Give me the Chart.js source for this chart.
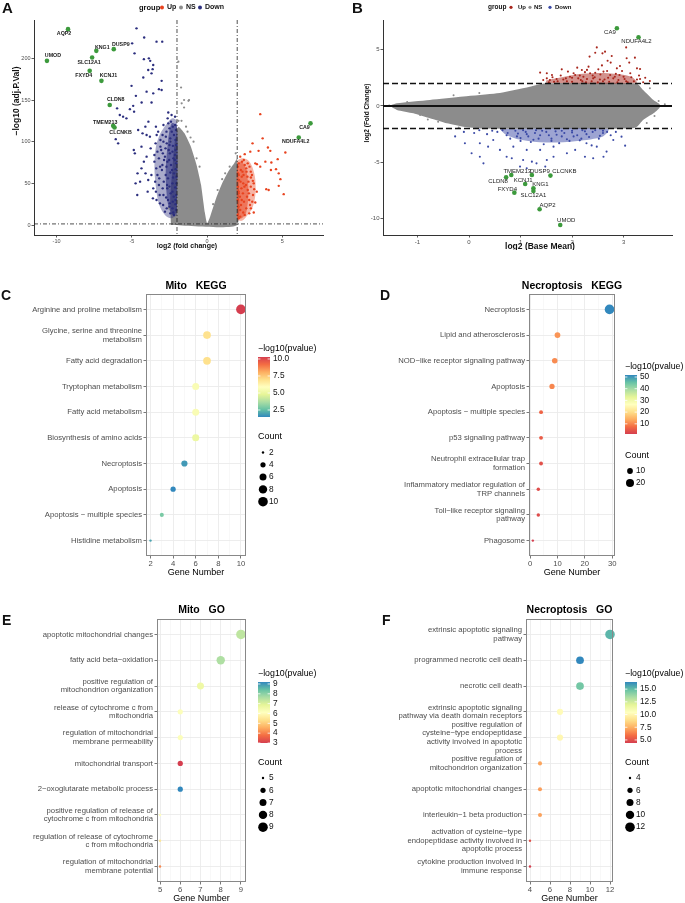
<!DOCTYPE html>
<html lang="en">
<head>
<meta charset="UTF-8">
<title>DEG volcano, MA plot and enrichment dot plots</title>
<script src="https://cdn.jsdelivr.net/npm/chart.js"></script>
<style>
  html, body { margin: 0; padding: 0; background: #fff; }
  body { position: relative; width: 685px; height: 903px; overflow: hidden; }
  canvas { position: absolute; }
</style>
</head>
<body>
<canvas id="cA" width="340" height="250" style="left:0px;top:0px"></canvas>
<canvas id="cB" width="345" height="250" style="left:340px;top:0px"></canvas>
<canvas id="cC" width="340" height="300" style="left:0px;top:280px"></canvas>
<canvas id="cD" width="345" height="300" style="left:340px;top:280px"></canvas>
<canvas id="cE" width="340" height="323" style="left:0px;top:580px"></canvas>
<canvas id="cF" width="345" height="323" style="left:340px;top:580px"></canvas>

<script>
// ---------------- A : volcano ----------------
const groupNames = ['Up', 'NS', 'Down'];

const volcGenes = ['AQP2', 'UMOD', 'KNG1', 'DUSP9', 'SLC12A1', 'FXYD4', 'KCNJ1', 'CLDN8', 'TMEM213', 'CLCNKB', 'CA9', 'NDUFA4L2'];
const volcGeneFC = [-9.24, -10.64, -7.36, -6.2, -7.64, -7.8, -7.02, -6.47, -6.24, -6.15, 6.87, 6.09];
const volcGeneP = [235, 197, 209, 211, 201, 185, 173, 144, 119, 117, 122, 105];
const volcCutFC = [-2, 2];
const volcCutP = 1.3;

// dense cores of each group (outline)
const volcNsCloud = [[-2.4, 0], [-2.45, 30], [-2.3, 70], [-2.15, 100], [-1.9, 118], [-1.5, 110], [-1.1, 95],
  [-0.7, 72], [-0.4, 48], [-0.15, 15], [0, 2], [0.2, 10], [0.6, 32], [1.0, 50], [1.4, 64], [1.8, 74], [2.0, 80], [2.0, 0]];
const volcDownCore = [[-2.0, 12], [-2.0, 124], [-2.3, 128], [-2.7, 121], [-3.1, 110], [-3.4, 94], [-3.5, 70],
  [-3.4, 45], [-3.2, 25], [-2.8, 12], [-2.4, 8]];
const volcDownInner = [[-2.0, 15], [-2.0, 118], [-2.35, 122], [-2.6, 100], [-2.75, 60], [-2.6, 25], [-2.3, 12]];
const volcUpCore = [[2.0, 6], [2.0, 76], [2.3, 80], [2.7, 78], [3.0, 70], [3.2, 55], [3.2, 35], [3.0, 20], [2.6, 10], [2.3, 5]];
const volcUpInner = [[2.0, 8], [2.0, 72], [2.3, 76], [2.6, 66], [2.75, 40], [2.6, 15], [2.3, 8]];

const volcNs = [[-1.91, 196], [-1.73, 165], [-1.53, 150], [-1.2, 150], [-1.69, 146], [-1.24, 149], [-1.53, 141],
  [-1.9, 125], [-1.4, 118], [-0.9, 100], [-0.5, 70], [-2.4, 100], [0.4, 25], [1.0, 55], [1.5, 70], [1.9, 86], [-2.5, 45],
  [-1.1, 105], [-0.7, 80], [0.7, 42], [1.2, 62], [-2.55, 20], [-1.7, 125], [-1.3, 112]];
const volcDown = [[-4.69, 236], [-4.18, 225], [-3.36, 220], [-2.98, 220], [-4.98, 218], [-4.82, 206], [-4.2, 199],
  [-3.87, 200], [-3.78, 197], [-3.58, 192], [-3.91, 186], [-3.62, 187], [-3.69, 182], [-4.24, 177], [-3.02, 173],
  [-5.02, 167], [-3.2, 163], [-3.02, 162], [-4.02, 160], [-3.58, 158], [-4.73, 155], [-3.69, 147], [-4.35, 147],
  [-4.91, 143], [-5.13, 139], [-4.85, 136], [-5.8, 132], [-5.58, 130], [-5.36, 128], [-5.98, 140], [-2.58, 135],
  [-2.36, 132], [-2.13, 130], [-4.58, 114], [-4.29, 110], [-4.02, 108], [-5.91, 98], [-6.07, 103], [-4.87, 90],
  [-4.8, 86], [-4.75, 50], [-4.64, 36], [-4.62, 62], [-4.36, 68], [-4.02, 82], [-4.09, 62], [-4.36, 94], [-3.8, 106],
  [-3.91, 54], [-3.58, 44], [-3.36, 30], [-3.13, 26], [-2.9, 120], [-2.7, 112], [-3.1, 102], [-2.5, 96], [-3.3, 88],
  [-2.8, 82], [-3.5, 76], [-2.4, 72], [-3.0, 66], [-3.7, 60], [-2.6, 56], [-3.2, 48], [-2.3, 40], [-2.9, 36],
  [-3.6, 32], [-2.5, 22], [-2.8, 16], [-2.2, 12], [-3.4, 118], [-3.9, 124], [-2.2, 108], [-2.4, 124], [-2.1, 90],
  [-2.2, 62], [-2.1, 30], [-2.65, 44], [-3.3, 60], [-2.45, 104], [-4.1, 118], [-3.75, 92], [-4.2, 76], [-3.95, 40],
  [-4.45, 52], [-2.05, 50], [-2.15, 78], [-2.3, 20], [-2.6, 30], [-3.05, 90],
  [-2.05, 18], [-2.1, 25], [-2.05, 36], [-2.12, 45], [-2.04, 58], [-2.1, 67], [-2.06, 74], [-2.14, 84], [-2.05, 96],
  [-2.1, 102], [-2.07, 114], [-2.12, 120], [-2.25, 15], [-2.28, 28], [-2.22, 34], [-2.3, 50], [-2.26, 57],
  [-2.33, 66], [-2.24, 80], [-2.3, 88], [-2.27, 95], [-2.35, 112], [-2.28, 118], [-2.45, 14], [-2.48, 26],
  [-2.42, 38], [-2.5, 46], [-2.44, 63], [-2.52, 78], [-2.47, 86], [-2.55, 90], [-2.43, 100], [-2.5, 116],
  [-2.58, 122], [-2.68, 20], [-2.72, 33], [-2.66, 48], [-2.75, 60], [-2.7, 70], [-2.64, 76], [-2.76, 92],
  [-2.68, 98], [-2.74, 106], [-2.62, 128], [-2.92, 24], [-2.95, 44], [-2.88, 52], [-2.97, 72], [-2.86, 78],
  [-2.94, 86], [-2.9, 100], [-2.96, 108], [-3.15, 36], [-3.18, 56], [-3.12, 70], [-3.2, 80], [-3.1, 94],
  [-3.25, 112], [-3.4, 40], [-3.45, 52], [-3.38, 68], [-3.5, 84], [-3.42, 98], [-3.35, 108]];
const volcUp = [[3.53, 133], [3.02, 98], [3.69, 104], [4.04, 93], [4.2, 89], [3.42, 89], [2.87, 88], [5.2, 87],
  [4.69, 79], [3.87, 76], [4.27, 75], [3.2, 74], [3.31, 73], [3.53, 70], [4.24, 66], [4.58, 67], [4.76, 62],
  [4.87, 55], [2.91, 57], [3.04, 53], [4.76, 47], [3.93, 43], [4.09, 42], [3.13, 43], [5.09, 37], [3.2, 27],
  [2.91, 20], [2.5, 85], [2.2, 82], [2.6, 68], [2.1, 60], [2.9, 64], [2.4, 50], [2.1, 40], [2.7, 42], [2.3, 30],
  [2.8, 30], [2.2, 18], [2.5, 12], [2.1, 8], [3.3, 40], [3.1, 15], [2.05, 70], [2.35, 64], [2.75, 52],
  [2.03, 12], [2.08, 22], [2.04, 30], [2.1, 38], [2.05, 46], [2.12, 54], [2.06, 62], [2.1, 74], [2.2, 10],
  [2.25, 24], [2.18, 34], [2.28, 44], [2.22, 52], [2.3, 58], [2.24, 66], [2.32, 76], [2.4, 15], [2.45, 28],
  [2.38, 38], [2.48, 46], [2.42, 60], [2.5, 72], [2.44, 78], [2.6, 20], [2.65, 34], [2.58, 48], [2.68, 58],
  [2.62, 64], [2.7, 74], [2.8, 14], [2.85, 24], [2.78, 38], [2.9, 46], [2.82, 70], [3.0, 28], [3.05, 36],
  [2.98, 60], [3.1, 50]];

// ---------------- B : MA plot ----------------
const maGenes = ['CA9', 'NDUFA4L2', 'TMEM213', 'DUSP9', 'CLCNKB', 'CLDN8', 'KCNJ1', 'KNG1', 'SLC12A1', 'FXYD4', 'AQP2', 'UMOD'];
const maGeneMean = [2.87, 3.29, 0.82, 1.22, 1.58, 0.72, 1.09, 1.25, 1.25, 0.88, 1.37, 1.77];
const maGeneFC = [6.9, 6.1, -6.12, -6.12, -6.18, -6.33, -6.92, -7.3, -7.55, -7.69, -9.17, -10.56];
const maCutFC = [-2, 2];

const maNsCloud = [[-1.5, 0.1], [-1.4, 0.24], [-0.76, 0.53], [-0.11, 0.83], [0.54, 1.12], [1.18, 1.71], [1.45, 2.0],
  [3.25, 2.0], [3.38, 1.42], [3.58, 0.53], [3.7, 0.15], [3.7, -0.15], [3.58, -0.65], [3.38, -1.24], [3.26, -1.84],
  [3.15, -2.0], [0.25, -2.0], [-0.11, -1.84], [-0.43, -1.54], [-0.76, -1.09], [-1.08, -0.65], [-1.4, -0.35], [-1.5, -0.1]];
const maUpCore = [[1.5, 2.05], [3.25, 2.05], [3.15, 2.6], [2.7, 2.9], [2.2, 2.85], [1.8, 2.55], [1.5, 2.25]];
const maDownCore = [[0.6, -2.05], [2.7, -2.05], [2.6, -2.7], [2.1, -3.1], [1.5, -3.25], [1.0, -3.0], [0.7, -2.5]];

const maNs = [[3.68, 0.44], [3.51, 1.57], [3.37, 1.12], [3.8, 0.15], [-0.95, -0.8], [-0.6, -1.39], [-1.55, 0.05],
  [3.45, -1.5], [3.6, -0.9], [-1.2, 0.35], [3.3, 1.7], [-0.3, 0.95], [0.2, 1.15], [-0.8, -1.2], [-0.2, -1.9]];
const maUp = [[2.48, 5.2], [2.59, 4.67], [2.64, 4.82], [3.05, 5.2], [2.77, 4.44], [2.34, 4.38], [2.45, 4.73],
  [2.69, 4.02], [2.75, 3.85], [3.06, 4.23], [3.11, 3.85], [2.87, 3.34], [2.93, 3.55], [2.32, 3.49], [2.19, 3.19],
  [3.26, 3.34], [2.51, 3.25], [2.61, 3.05], [1.8, 3.25], [2.03, 2.9], [1.96, 2.6], [1.51, 2.9], [1.61, 2.75],
  [3.13, 2.9], [3.0, 2.6], [2.74, 2.75], [2.83, 2.6], [1.7, 2.4], [1.83, 2.35], [2.12, 2.45], [2.29, 2.4],
  [2.41, 2.45], [2.54, 2.35], [1.44, 2.3], [1.57, 2.3], [3.26, 2.35], [3.32, 2.4], [2.25, 3.0], [2.29, 3.2],
  [3.22, 4.29], [3.32, 3.28], [3.51, 2.22], [1.38, 2.96], [1.51, 2.45], [1.9, 2.2], [2.0, 2.5], [2.2, 2.2],
  [2.4, 2.7], [2.6, 2.2], [2.7, 2.5], [2.9, 2.3], [3.05, 2.2], [1.65, 2.15], [2.15, 2.7], [2.45, 2.95], [2.85, 2.85],
  [1.55, 2.1], [1.62, 2.55], [1.72, 2.2], [1.78, 2.7], [1.88, 2.45], [1.92, 3.05], [2.0, 2.15], [2.06, 2.75],
  [2.1, 3.4], [2.17, 2.3], [2.22, 2.6], [2.27, 2.1], [2.35, 2.9], [2.38, 2.2], [2.44, 2.55], [2.5, 2.1],
  [2.55, 2.8], [2.58, 3.6], [2.63, 2.35], [2.68, 3.1], [2.72, 2.15], [2.8, 2.45], [2.88, 2.1], [2.92, 2.75],
  [2.97, 3.1], [3.02, 2.4], [3.08, 2.1], [3.15, 2.55], [3.2, 2.2], [3.3, 2.7], [3.38, 2.1], [3.42, 2.5]];
const maDown = [[-0.27, -2.7], [-0.08, -3.31], [0.05, -4.2], [0.21, -4.5], [0.28, -5.09], [0.37, -3.61],
  [0.47, -3.02], [0.6, -3.9], [0.73, -4.5], [0.83, -4.64], [0.99, -5.38], [1.12, -5.53], [1.31, -5.09],
  [1.48, -5.38], [1.64, -4.5], [1.9, -4.2], [2.06, -3.9], [2.25, -4.5], [2.41, -4.64], [2.61, -4.5], [2.67, -4.05],
  [3.03, -3.52], [2.8, -3.02], [2.96, -2.72], [2.48, -3.61], [2.28, -3.31], [1.64, -3.61], [1.38, -3.9],
  [1.12, -3.9], [0.86, -3.61], [0.21, -3.31], [0.73, -2.6], [0.93, -2.7], [1.12, -2.5], [1.38, -2.6], [1.7, -2.55],
  [2.03, -2.7], [2.28, -2.5], [2.54, -2.65], [1.05, -4.79], [1.22, -4.94], [1.51, -4.79], [0.9, -2.2], [1.1, -2.3],
  [1.3, -2.15], [1.5, -2.3], [1.8, -2.2], [2.0, -2.35], [2.2, -2.15], [2.4, -2.3], [2.6, -2.2], [1.0, -3.1],
  [1.25, -3.0], [1.6, -3.1], [1.9, -2.95], [2.15, -3.05], [0.55, -2.3], [0.35, -2.5], [0.1, -2.4],
  [0.65, -2.15], [0.75, -2.4], [0.8, -2.9], [0.95, -2.45], [1.0, -2.85], [1.05, -2.15], [1.15, -2.7], [1.2, -3.2],
  [1.28, -2.4], [1.35, -2.9], [1.42, -2.2], [1.45, -3.4], [1.55, -2.6], [1.6, -2.9], [1.68, -2.25], [1.75, -3.3],
  [1.8, -2.7], [1.85, -2.4], [1.95, -3.1], [2.0, -2.2], [2.1, -2.6], [2.18, -2.9], [2.25, -2.25], [2.33, -2.75],
  [2.38, -3.5], [2.45, -2.15], [2.52, -2.9], [2.6, -2.4], [2.68, -2.3], [2.75, -2.6], [2.85, -2.3], [0.45, -2.2],
  [0.2, -2.15], [-0.1, -2.3]];

// ---------------- C : Mito KEGG ----------------
const mitoKeggTerms = ['Arginine and proline metabolism', ['Glycine, serine and threonine', 'metabolism'],
  'Fatty acid degradation', 'Tryptophan metabolism', 'Fatty acid metabolism', 'Biosynthesis of amino acids',
  'Necroptosis', 'Apoptosis', 'Apoptosis − multiple species', 'Histidine metabolism'];
const mitoKeggCount = [10, 7, 7, 6, 6, 6, 5, 4, 3, 2];
const mitoKeggLogP = [10.29, 6.9, 6.95, 5.6, 5.6, 5.1, 1.8, 1.47, 2.9, 2.0];
const mitoKeggBar = ['10.0', '7.5', '5.0', '2.5'];
const mitoKeggSizes = [2, 4, 6, 8, 10];

// ---------------- D : Necroptosis KEGG ----------------
const necroKeggTerms = ['Necroptosis', 'Lipid and atherosclerosis', 'NOD−like receptor signaling pathway',
  'Apoptosis', 'Apoptosis − multiple species', 'p53 signaling pathway', ['Neutrophil extracellular trap', 'formation'],
  ['Inflammatory mediator regulation of', 'TRP channels'], ['Toll−like receptor signaling', 'pathway'], 'Phagosome'];
const necroKeggCount = [29, 10, 9, 8, 4, 4, 4, 3, 3, 1];
const necroKeggLogP = [51.7, 11.5, 10.5, 10.0, 6.3, 5.3, 3.8, 3.3, 3.2, 1.3];
const necroKeggBar = ['50', '40', '30', '20', '10'];
const necroKeggSizes = [10, 20];

// ---------------- E : Mito GO ----------------
const mitoGoTerms = ['apoptotic mitochondrial changes', 'fatty acid beta−oxidation',
  ['positive regulation of', 'mitochondrion organization'], ['release of cytochrome c from', 'mitochondria'],
  ['regulation of mitochondrial', 'membrane permeability'], 'mitochondrial transport', '2−oxoglutarate metabolic process',
  ['positive regulation of release of', 'cytochrome c from mitochondria'], ['regulation of release of cytochrome', 'c from mitochondria'],
  ['regulation of mitochondrial', 'membrane potential']];
const mitoGoCount = [9, 8, 7, 6, 6, 6, 6, 5, 5, 5];
const mitoGoLogP = [7.4, 7.6, 6.6, 6.2, 6.2, 3.0, 9.2, 6.1, 5.5, 4.1];
const mitoGoBar = ['9', '8', '7', '6', '5', '4', '3'];
const mitoGoSizes = [5, 6, 7, 8, 9];

// ---------------- F : Necroptosis GO ----------------
const necroGoTerms = [['extrinsic apoptotic signaling', 'pathway'], 'programmed necrotic cell death', 'necrotic cell death',
  ['extrinsic apoptotic signaling', 'pathway via death domain receptors'],
  ['positive regulation of', 'cysteine−type endopeptidase', 'activity involved in apoptotic', 'process'],
  ['positive regulation of', 'mitochondrion organization'], 'apoptotic mitochondrial changes', 'interleukin−1 beta production',
  ['activation of cysteine−type', 'endopeptidase activity involved in', 'apoptotic process'],
  ['cytokine production involved in', 'immune response']];
const necroGoCount = [12, 9, 9, 7, 7, 5, 5, 5, 4, 4];
const necroGoLogP = [15.2, 16.4, 14.6, 10.2, 10.0, 7.2, 7.0, 7.1, 5.0, 4.4];
const necroGoBar = ['15.0', '12.5', '10.0', '7.5', '5.0'];
const necroGoSizes = [4, 6, 8, 10, 12];

// ------------------------------------------------
const FONT = '"Liberation Sans", Arial, Helvetica, sans-serif';
Chart.defaults.font.family = FONT;

const SPECTRAL = ['#3288BD', '#66C2A5', '#ABDDA4', '#E6F598', '#FFFFBF', '#FEE08B', '#FDAE61', '#F46D43', '#D53E4F'];
const R_MIN = 1.2, R_MAX = 4.8;

function hexRgb(h) { return [1, 3, 5].map(i => parseInt(h.substr(i, 2), 16)); }
function spectralAt(t) {
  t = Math.max(0, Math.min(1, t));
  const s = t * (SPECTRAL.length - 1);
  const i = Math.min(Math.floor(s), SPECTRAL.length - 2);
  const f = s - i;
  const a = hexRgb(SPECTRAL[i]), b = hexRgb(SPECTRAL[i + 1]);
  return 'rgb(' + a.map((v, k) => Math.round(v + (b[k] - v) * f)).join(',') + ')';
}

function pts(list) { return list.map(p => ({ x: p[0], y: p[1] })); }
function dotSet(list, color, r, order) {
  return { data: pts(list), pointRadius: r, pointBackgroundColor: color, pointBorderWidth: 0, order: order };
}
function blobSet(list, color, order, tension) {
  return { type: 'line', data: pts(list.concat([list[0]])), pointRadius: 0, borderWidth: 0,
    backgroundColor: color, fill: 'shape', tension: tension || 0, order: order };
}
function zip(a, b) { return a.map((v, i) => [v, b[i]]); }

function classicAxis(min, max, step, fit, isX, size) {
  return {
    type: 'linear', min: min, max: max,
    afterFit: s => { if (isX) s.height = fit; else s.width = fit; },
    ticks: { stepSize: step, includeBounds: false, autoSkip: false, maxRotation: 0, padding: 1,
      color: '#4D4D4D', font: { size: size } },
    grid: { drawOnChartArea: false, tickLength: 2.5, tickColor: '#333', tickWidth: 0.8 },
    border: { display: true, color: '#333', width: 1 }
  };
}

function groupLegend(ctx, x0, y, marks, colors, labelX, fs, r) {
  ctx.textBaseline = 'middle';
  ctx.textAlign = 'left';
  ctx.fillStyle = '#111';
  ctx.font = 'bold ' + (fs + 0.5) + 'px ' + FONT;
  ctx.fillText('group', x0, y);
  ctx.font = 'bold ' + fs + 'px ' + FONT;
  groupNames.forEach((g, i) => {
    ctx.beginPath(); ctx.arc(marks[i], y, r, 0, Math.PI * 2);
    ctx.fillStyle = colors[i]; ctx.fill();
    ctx.fillStyle = '#111'; ctx.fillText(g, labelX[i], y);
  });
}

function rotatedText(ctx, txt, x, y) {
  ctx.save(); ctx.translate(x, y); ctx.rotate(-Math.PI / 2);
  ctx.textAlign = 'center'; ctx.textBaseline = 'middle'; ctx.fillText(txt, 0, 0); ctx.restore();
}

const baseOpts = { responsive: false, animation: false, events: [],
  plugins: { legend: { display: false }, tooltip: { enabled: false } } };

// ---------- A ----------
const upA = '#E8431F', nsA = '#8C8C8C', downA = '#2B2E7E', geneCol = '#3C9A3C';
const volcNudge = [[-4, 4.5], [6, -5], [6, -3.5], [7, -5], [-3, 5], [-6, 5], [7, -5], [6, -5], [-8, -3.5], [6, 5], [-6, 4], [-3, 4.5]];

new Chart(document.getElementById('cA'), {
  type: 'scatter',
  data: { datasets: [
    blobSet(volcNsCloud, nsA, 9, 0.15),
    blobSet(volcDownCore, 'rgba(43,46,126,0.4)', 8, 0.3),
    blobSet(volcDownInner, 'rgba(43,46,126,0.6)', 7, 0.3),
    blobSet(volcUpCore, 'rgba(232,67,31,0.4)', 8, 0.3),
    blobSet(volcUpInner, 'rgba(232,67,31,0.55)', 7, 0.3),
    dotSet(volcNs, nsA, 1.1, 5),
    dotSet(volcDown, downA, 1.2, 4),
    dotSet(volcUp, upA, 1.2, 4),
    dotSet(zip(volcGeneFC, volcGeneP), geneCol, 2.3, 1)
  ] },
  options: Object.assign({}, baseOpts, {
    layout: { padding: { left: 0, right: 17, top: 20, bottom: 0 } },
    scales: { x: classicAxis(-11.5, 7.7, 5, 15, true, 5.5), y: classicAxis(-12, 246, 50, 34, false, 5.5) }
  }),
  plugins: [{
    id: 'volcDecor',
    afterDatasetsDraw(chart) {
      const { ctx, chartArea: a, scales: { x, y } } = chart;
      ctx.save();
      ctx.strokeStyle = '#222'; ctx.lineWidth = 0.8; ctx.setLineDash([4, 2, 1, 2]);
      volcCutFC.forEach(v => {
        const px = x.getPixelForValue(v);
        ctx.beginPath(); ctx.moveTo(px, a.top); ctx.lineTo(px, a.bottom); ctx.stroke();
      });
      const py = y.getPixelForValue(volcCutP);
      ctx.beginPath(); ctx.moveTo(a.left, py); ctx.lineTo(a.right, py); ctx.stroke();
      ctx.setLineDash([]);
      ctx.font = 'bold 5.3px ' + FONT; ctx.fillStyle = '#222';
      ctx.textAlign = 'center'; ctx.textBaseline = 'middle';
      volcGenes.forEach((g, i) => ctx.fillText(g, x.getPixelForValue(volcGeneFC[i]) + volcNudge[i][0],
        y.getPixelForValue(volcGeneP[i]) + volcNudge[i][1]));
      ctx.restore();
    },
    afterDraw(chart) {
      const ctx = chart.ctx;
      ctx.save();
      groupLegend(ctx, 139, 7.5, [162, 181, 200], [upA, nsA, downA], [167, 186, 205], 7, 2);
      ctx.fillStyle = '#111'; ctx.font = 'bold 7px ' + FONT;
      ctx.textAlign = 'center'; ctx.textBaseline = 'middle';
      ctx.fillText('log2 (fold change)', 187, 246.5);
      ctx.font = 'bold 8.5px ' + FONT;
      rotatedText(ctx, '−log10 (adj.P.Val)', 17, 101);
      ctx.font = 'bold 15px ' + FONT; ctx.textAlign = 'left'; ctx.textBaseline = 'alphabetic';
      ctx.fillText('A', 2, 12.5);
      ctx.restore();
    }
  }]
});

// ---------- B ----------
const upB = '#A8261C', nsB = '#8C8C8C', downB = '#3B4AA6';
const maNudge = [[-7, 4], [-2, 4], [6, -3.5], [8, -3.5], [14, -4], [-8, 4.5], [-2, -4], [7, -4], [0, 4], [-7, -3.5], [8, -4], [6, -5]];

new Chart(document.getElementById('cB'), {
  type: 'scatter',
  data: { datasets: [
    blobSet(maNsCloud, nsB, 9, 0.2),
    blobSet(maDownCore, 'rgba(59,74,166,0.5)', 8, 0.3),
    blobSet(maUpCore, 'rgba(168,38,28,0.5)', 8, 0.3),
    dotSet(maNs, nsB, 1, 5),
    dotSet(maDown, downB, 1.05, 4),
    dotSet(maUp, upB, 1.05, 4),
    dotSet(zip(maGeneMean, maGeneFC), geneCol, 2.3, 1)
  ] },
  options: Object.assign({}, baseOpts, {
    layout: { padding: { left: 0, right: 13, top: 20, bottom: 0 } },
    scales: { x: classicAxis(-1.67, 3.94, 1, 15, true, 6), y: classicAxis(-11.45, 7.63, 5, 43, false, 6) }
  }),
  plugins: [{
    id: 'maDecor',
    afterDatasetsDraw(chart) {
      const { ctx, chartArea: a, scales: { x, y } } = chart;
      ctx.save();
      ctx.strokeStyle = '#111'; ctx.lineWidth = 1.4; ctx.setLineDash([6, 3]);
      maCutFC.forEach(v => {
        const py = y.getPixelForValue(v);
        ctx.beginPath(); ctx.moveTo(a.left, py); ctx.lineTo(a.right, py); ctx.stroke();
      });
      ctx.setLineDash([]); ctx.lineWidth = 2;
      const pz = y.getPixelForValue(0);
      ctx.beginPath(); ctx.moveTo(a.left, pz); ctx.lineTo(a.right, pz); ctx.stroke();
      ctx.font = '6px ' + FONT; ctx.fillStyle = '#222';
      ctx.textAlign = 'center'; ctx.textBaseline = 'middle';
      maGenes.forEach((g, i) => ctx.fillText(g, x.getPixelForValue(maGeneMean[i]) + maNudge[i][0],
        y.getPixelForValue(maGeneFC[i]) + maNudge[i][1]));
      ctx.restore();
    },
    afterDraw(chart) {
      const ctx = chart.ctx;
      ctx.save();
      groupLegend(ctx, 148, 7.3, [171, 190, 210], [upB, nsB, downB], [178, 194, 215], 6, 1.6);
      ctx.fillStyle = '#111'; ctx.font = 'bold 8.5px ' + FONT;
      ctx.textAlign = 'center'; ctx.textBaseline = 'middle';
      ctx.fillText('log2 (Base Mean)', 200, 247);
      ctx.font = 'bold 6.5px ' + FONT;
      rotatedText(ctx, 'log2 (Fold Change)', 27, 113);
      ctx.font = 'bold 15px ' + FONT; ctx.textAlign = 'left'; ctx.textBaseline = 'alphabetic';
      ctx.fillText('B', 12, 12.5);
      ctx.restore();
    }
  }]
});

// ---------- dot plots C-F ----------
function dotPlot(id, terms, counts, logp, barLabels, sizeBreaks, o) {
  const pMin = Math.min(...logp), pMax = Math.max(...logp);
  const nMin = Math.min(...counts), nMax = Math.max(...counts);
  const colorOf = v => { const t = (v - pMin) / (pMax - pMin); return spectralAt(o.redHigh ? t : 1 - t); };
  const radiusOf = n => Math.sqrt(R_MIN * R_MIN + (R_MAX * R_MAX - R_MIN * R_MIN) * (n - nMin) / (nMax - nMin));
  const major = v => Math.abs(v / o.major - Math.round(v / o.major)) < 1e-6;
  const isMajorTick = c => c.tick && major(c.tick.value);

  new Chart(document.getElementById(id), {
    type: 'scatter',
    data: { datasets: [{
      data: counts.map((n, i) => ({ x: n, y: i + 1 })),
      pointRadius: c => radiusOf(counts[c.dataIndex]),
      pointBackgroundColor: c => colorOf(logp[c.dataIndex]),
      pointBorderWidth: 0, clip: false
    }] },
    options: Object.assign({}, baseOpts, {
      layout: { padding: { left: 0, right: o.padR, top: o.padT, bottom: o.padB } },
      scales: {
        x: { type: 'linear', min: o.xMin, max: o.xMax, afterFit: s => { s.height = 14; },
          ticks: { stepSize: o.step, includeBounds: false, autoSkip: false, maxRotation: 0, padding: 1,
            color: '#4D4D4D', font: { size: 7.7 }, callback: v => major(v) ? String(v) : '' },
          grid: { color: c => isMajorTick(c) ? '#EBEBEB' : '#F4F4F4', lineWidth: c => isMajorTick(c) ? 0.9 : 0.6,
            tickLength: 2.5, tickWidth: 0.8, tickColor: c => isMajorTick(c) ? '#555' : 'rgba(0,0,0,0)' },
          border: { display: false } },
        y: { type: 'linear', reverse: true, min: 0.4, max: terms.length + 0.6, afterFit: s => { s.width = o.yW; },
          ticks: { stepSize: 1, includeBounds: false, autoSkip: false, padding: 1.5,
            color: '#4D4D4D', font: { size: 7.7, lineHeight: 1.12 }, callback: v => terms[Math.round(v) - 1] },
          grid: { color: '#EBEBEB', lineWidth: 0.9, tickLength: 2.5, tickWidth: 0.8, tickColor: '#555' },
          border: { display: false } }
      }
    }),
    plugins: [{
      id: 'dotLegend',
      afterDraw(chart) {
        const { ctx, chartArea: a } = chart;
        ctx.save();
        ctx.strokeStyle = '#888'; ctx.lineWidth = 1;
        ctx.strokeRect(a.left + 0.5, a.top + 0.5, a.right - a.left - 1, a.bottom - a.top - 1);
        ctx.fillStyle = '#000'; ctx.textBaseline = 'middle'; ctx.textAlign = 'center';
        ctx.font = 'bold 10.5px ' + FONT;
        ctx.fillText(o.title, (a.left + a.right) / 2, o.titleY);
        ctx.font = '9px ' + FONT;
        ctx.fillText('Gene Number', (a.left + a.right) / 2, a.bottom + 16.5);

        // colour bar
        const bx = o.legX, bw = 12, bt = o.barTop, bh = o.barH;
        ctx.textAlign = 'left';
        ctx.font = '8.8px ' + FONT;
        ctx.fillText('−log10(pvalue)', bx, o.legTitleY);
        const g = ctx.createLinearGradient(0, bt, 0, bt + bh);
        for (let k = 0; k <= 16; k++) g.addColorStop(k / 16, colorOf(pMax - (pMax - pMin) * k / 16));
        ctx.fillStyle = g; ctx.fillRect(bx, bt, bw, bh);
        ctx.font = '8.3px ' + FONT; ctx.strokeStyle = '#fff'; ctx.lineWidth = 0.8;
        barLabels.forEach(s => {
          const yy = bt + (pMax - parseFloat(s)) / (pMax - pMin) * bh;
          ctx.beginPath();
          ctx.moveTo(bx, yy); ctx.lineTo(bx + 2.4, yy);
          ctx.moveTo(bx + bw - 2.4, yy); ctx.lineTo(bx + bw, yy);
          ctx.stroke();
          ctx.fillStyle = '#111'; ctx.fillText(s, bx + bw + 3, yy);
        });

        // size legend
        ctx.fillStyle = '#000'; ctx.font = '9px ' + FONT;
        ctx.fillText('Count', bx, o.cntTitleY);
        ctx.font = '8.3px ' + FONT;
        sizeBreaks.forEach((n, k) => {
          const yy = o.cntY0 + k * o.cntStep;
          ctx.beginPath(); ctx.arc(bx + 5, yy, radiusOf(n), 0, Math.PI * 2);
          ctx.fillStyle = '#000'; ctx.fill();
          ctx.fillStyle = '#111'; ctx.fillText(String(n), bx + 11, yy);
        });

        ctx.fillStyle = '#111'; ctx.font = 'bold 14px ' + FONT; ctx.textBaseline = 'alphabetic';
        ctx.fillText(o.tag, o.tagX, o.tagY);
        ctx.restore();
      }
    }]
  });
}

dotPlot('cC', mitoKeggTerms, mitoKeggCount, mitoKeggLogP, mitoKeggBar, mitoKeggSizes, {
  redHigh: true, yW: 146, padR: 94, padT: 14, padB: 10, xMin: 1.6, xMax: 10.45, step: 1, major: 2,
  title: 'Mito   KEGG', titleY: 6, legX: 258, legTitleY: 69, barTop: 77, barH: 60,
  cntTitleY: 157, cntY0: 172.5, cntStep: 12.3, tag: 'C', tagX: 1, tagY: 20 });

dotPlot('cD', necroKeggTerms, necroKeggCount, necroKeggLogP, necroKeggBar, necroKeggSizes, {
  redHigh: false, yW: 189, padR: 70, padT: 14, padB: 10, xMin: -0.4, xMax: 31, step: 5, major: 10,
  title: 'Necroptosis   KEGG', titleY: 6, legX: 285, legTitleY: 87, barTop: 95, barH: 59,
  cntTitleY: 176, cntY0: 191, cntStep: 12, tag: 'D', tagX: 40, tagY: 20 });

dotPlot('cE', mitoGoTerms, mitoGoCount, mitoGoLogP, mitoGoBar, mitoGoSizes, {
  redHigh: false, yW: 157, padR: 94, padT: 39, padB: 7, xMin: 4.85, xMax: 9.25, step: 0.5, major: 1,
  title: 'Mito   GO', titleY: 30, legX: 258, legTitleY: 94, barTop: 102, barH: 61,
  cntTitleY: 183, cntY0: 198, cntStep: 12.3, tag: 'E', tagX: 2, tagY: 45 });

dotPlot('cF', necroGoTerms, necroGoCount, necroGoLogP, necroGoBar, necroGoSizes, {
  redHigh: false, yW: 186, padR: 72, padT: 39, padB: 7, xMin: 3.6, xMax: 12.3, step: 1, major: 2,
  title: 'Necroptosis   GO', titleY: 30, legX: 285, legTitleY: 94, barTop: 102, barH: 61,
  cntTitleY: 183, cntY0: 198, cntStep: 12.3, tag: 'F', tagX: 42, tagY: 45 });
</script>
</body>
</html>
